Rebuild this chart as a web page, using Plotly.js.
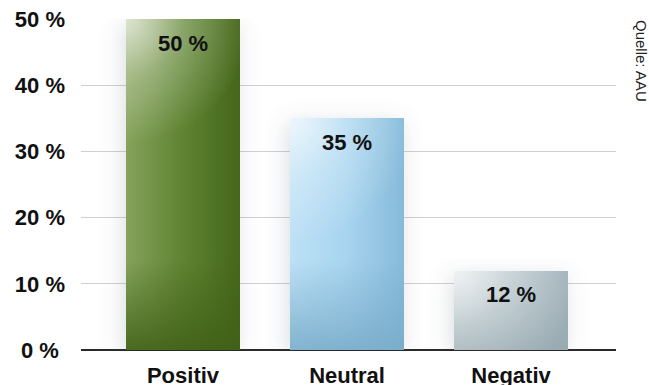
<!DOCTYPE html>
<html>
<head>
<meta charset="utf-8">
<script src="https://cdn.plot.ly/plotly-3.0.1.min.js"></script>
<style>
  html, body { margin: 0; padding: 0; background: #fff; }
  #chart { width: 649px; height: 385px; }
</style>
</head>
<body>
<div id="chart"></div>
<script>
// Survey result: share of answers per sentiment
const categories = ['Positiv', 'Neutral', 'Negativ'];
const shares = [50, 35, 12];
const tickValues = [0, 10, 20, 30, 40, 50];
const tickLabels = ['0 %\u2008', '10 %', '20 %', '30 %', '40 %', '50 %'];
const sourceNote = 'Quelle: AAU';

// Gradient palettes per bar: horizontal base (left → right) and bottom tone
const barPalettes = [
  { left: '#86a25c', mid: '#5e8331', right: '#44671a', bottom: '#3f6016' },
  { left: '#bde1f6', mid: '#a7d4ef', right: '#86bad9', bottom: '#78abc8' },
  { left: '#cbd7db', mid: '#b9c8ce', right: '#a3b4bb', bottom: '#97a9b0' }
];

const FONT = 'Liberation Sans, Arial, Helvetica, sans-serif';

const trace = {
  type: 'bar',
  x: categories.map((_, i) => i),
  y: shares,
  width: 0.695,
  marker: { color: '#888', line: { width: 0 } },
  hoverinfo: 'none'
};

const barLabels = shares.map((v, i) => ({
  x: i, y: v, xref: 'x', yref: 'y',
  text: v + ' %',
  showarrow: false,
  yanchor: 'middle',
  yshift: -24,
  font: { family: FONT, size: 22, color: '#111', weight: 'bold' }
}));

const layout = {
  width: 649,
  height: 385,
  margin: { l: 81, r: 33, t: 19, b: 35, pad: 0 },
  paper_bgcolor: '#ffffff',
  plot_bgcolor: '#ffffff',
  showlegend: false,
  bargap: 0,
  xaxis: {
    range: [-0.622, 2.64],
    tickvals: categories.map((_, i) => i),
    ticktext: categories,
    showgrid: false,
    zeroline: false,
    showline: false,
    ticks: '',
    ticklabelstandoff: 10,
    tickfont: { family: FONT, size: 22, color: '#111', weight: 'bold' },
    fixedrange: true
  },
  yaxis: {
    range: [0, 50.02],
    tickvals: tickValues,
    ticktext: tickLabels,
    showgrid: true,
    gridcolor: '#cfcfcf',
    gridwidth: 1.2,
    zeroline: true,
    zerolinecolor: '#2a2a2a',
    zerolinewidth: 1.6,
    showline: false,
    ticks: '',
    ticklabelstandoff: 15,
    tickfont: { family: FONT, size: 22, color: '#111', weight: 'bold' },
    fixedrange: true
  },
  annotations: barLabels.concat([{
    xref: 'paper', yref: 'paper', x: 1, y: 1,
    xanchor: 'center', yanchor: 'top',
    xshift: 26, yshift: 1,
    textangle: 90,
    text: sourceNote,
    showarrow: false,
    font: { family: FONT, size: 15, color: '#222' }
  }])
};

const SVGNS = 'http://www.w3.org/2000/svg';
function el(name, attrs) {
  const n = document.createElementNS(SVGNS, name);
  for (const k in attrs) n.setAttribute(k, attrs[k]);
  return n;
}
function stop(offset, color, opacity) {
  return el('stop', { offset: offset, 'stop-color': color, 'stop-opacity': opacity });
}

// Shade the bars: soft shadow, horizontal gradient, bottom tone and top-left sheen
function shadeBars(gd) {
  const svg = gd.querySelector('.main-svg');
  let defs = svg.querySelector('defs');
  if (!defs) { defs = el('defs', {}); svg.insertBefore(defs, svg.firstChild); }

  const shadow = el('filter', { id: 'barShadow', x: '-60%', y: '-20%', width: '220%', height: '140%' });
  shadow.appendChild(el('feGaussianBlur', { in: 'SourceAlpha', stdDeviation: '11', result: 'blur' }));
  shadow.appendChild(el('feOffset', { in: 'blur', dx: '-3', dy: '5', result: 'off' }));
  shadow.appendChild(el('feFlood', { 'flood-color': '#5a6a78', 'flood-opacity': '0.22', result: 'col' }));
  shadow.appendChild(el('feComposite', { in: 'col', in2: 'off', operator: 'in', result: 'sh' }));
  const merge = el('feMerge', {});
  merge.appendChild(el('feMergeNode', { in: 'sh' }));
  merge.appendChild(el('feMergeNode', { in: 'SourceGraphic' }));
  shadow.appendChild(merge);
  defs.appendChild(shadow);

  const paths = gd.querySelectorAll('.barlayer .point path');
  paths.forEach((p, i) => {
    const pal = barPalettes[i];
    const bb = p.getBBox();

    const base = el('linearGradient', { id: 'base' + i, x1: '0', y1: '0', x2: '1', y2: '0' });
    base.appendChild(stop('0', pal.left, 1));
    base.appendChild(stop('0.5', pal.mid, 1));
    base.appendChild(stop('1', pal.right, 1));
    defs.appendChild(base);

    const low = el('linearGradient', {
      id: 'low' + i, gradientUnits: 'userSpaceOnUse',
      x1: 0, y1: bb.y + bb.height - 90, x2: 0, y2: bb.y + bb.height
    });
    low.appendChild(stop('0', pal.bottom, 0));
    low.appendChild(stop('1', pal.bottom, 0.85));
    defs.appendChild(low);

    const sheen = el('radialGradient', {
      id: 'sheen' + i, gradientUnits: 'userSpaceOnUse',
      cx: bb.x, cy: bb.y, r: 125, fx: bb.x, fy: bb.y
    });
    sheen.appendChild(stop('0', '#ffffff', 0.72));
    sheen.appendChild(stop('0.45', '#ffffff', 0.28));
    sheen.appendChild(stop('1', '#ffffff', 0));
    defs.appendChild(sheen);

    p.style.fill = 'url(#base' + i + ')';
    p.style.fillOpacity = 1;
    p.setAttribute('filter', 'url(#barShadow)');

    const lowPath = p.cloneNode(false);
    lowPath.removeAttribute('filter');
    lowPath.style.fill = 'url(#low' + i + ')';
    const sheenPath = p.cloneNode(false);
    sheenPath.removeAttribute('filter');
    sheenPath.style.fill = 'url(#sheen' + i + ')';
    p.parentNode.appendChild(lowPath);
    p.parentNode.appendChild(sheenPath);
  });
}

Plotly.newPlot('chart', [trace], layout, { staticPlot: true, displayModeBar: false })
  .then(shadeBars);
</script>
</body>
</html>
